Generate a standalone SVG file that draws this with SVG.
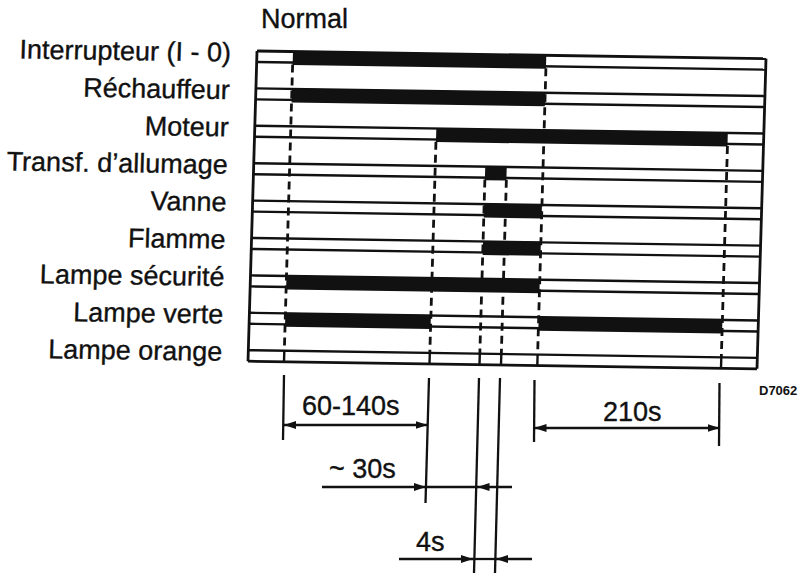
<svg xmlns="http://www.w3.org/2000/svg" width="801" height="579" viewBox="0 0 801 579">
<style>
.ln{stroke:#111;stroke-width:2.4;fill:none}
.box{stroke:#111;stroke-width:2.8;fill:none}
.bar{fill:#111}
.dash{stroke:#111;stroke-width:2.8;stroke-dasharray:8 5;fill:none}
.sol{stroke:#111;stroke-width:2.4}
.lbl{font-family:"Liberation Sans",Arial,sans-serif;font-size:27px;fill:#111;stroke:#111;stroke-width:0.35;text-anchor:end}
.txt{font-family:"Liberation Sans",Arial,sans-serif;font-size:27px;fill:#111;stroke:#111;stroke-width:0.35}
.dim{stroke:#111;stroke-width:2.3;fill:none}
</style>
<defs>
<marker id="ah" viewBox="0 0 12 8" refX="12" refY="4" markerWidth="12" markerHeight="8" markerUnits="userSpaceOnUse" orient="auto-start-reverse">
<path d="M0,0 L12,4 L0,8 z" fill="#111"/>
</marker>
</defs>
<rect width="801" height="579" fill="#fff"/>
<text class="txt" x="261" y="28">Normal</text>
<text x="759" y="395" style="font-family:'Liberation Sans',Arial,sans-serif;font-size:13px;font-weight:bold;fill:#111">D7062</text>

<g transform="matrix(1 0.015 -0.029 1 257 51)">
<g id="frame">
<line class="box" x1="0" y1="0" x2="0" y2="310.2"/>
<line class="box" x1="509" y1="0" x2="509" y2="310.2"/>
</g>
<g id="row-interrupteur">
<text class="lbl" x="-26" y="11">Interrupteur (I - 0)</text>
<line class="box" x1="0" y1="0" x2="509" y2="0"/>
<line class="ln" x1="0" y1="11" x2="509" y2="11"/>
<rect class="bar" x="36" y="-0.5" width="253.3" height="14"/>
</g>
<g id="row-rechauffeur" transform="translate(0 37.4)">
<text class="lbl" x="-26" y="11">Réchauffeur</text>
<line class="ln" x1="0" y1="0" x2="509" y2="0"/>
<line class="ln" x1="0" y1="11" x2="509" y2="11"/>
<rect class="bar" x="36" y="-0.5" width="253.3" height="14"/>
</g>
<g id="row-moteur" transform="translate(0 74.8)">
<text class="lbl" x="-26" y="11">Moteur</text>
<line class="ln" x1="0" y1="0" x2="509" y2="0"/>
<line class="ln" x1="0" y1="11" x2="509" y2="11"/>
<rect class="bar" x="181.5" y="-0.5" width="291.5" height="14"/>
</g>
<g id="row-transf" transform="translate(0 112.2)">
<text class="lbl" x="-26" y="11">Transf. d’allumage</text>
<line class="ln" x1="0" y1="0" x2="509" y2="0"/>
<line class="ln" x1="0" y1="11" x2="509" y2="11"/>
<rect class="bar" x="231.5" y="-0.5" width="21.5" height="14"/>
</g>
<g id="row-vanne" transform="translate(0 149.6)">
<text class="lbl" x="-26" y="11">Vanne</text>
<line class="ln" x1="0" y1="0" x2="509" y2="0"/>
<line class="ln" x1="0" y1="11" x2="509" y2="11"/>
<rect class="bar" x="231.5" y="-0.5" width="57.8" height="14"/>
</g>
<g id="row-flamme" transform="translate(0 187)">
<text class="lbl" x="-26" y="11">Flamme</text>
<line class="ln" x1="0" y1="0" x2="509" y2="0"/>
<line class="ln" x1="0" y1="11" x2="509" y2="11"/>
<rect class="bar" x="231.5" y="-0.5" width="57.8" height="14"/>
</g>
<g id="row-lampe-securite" transform="translate(0 224.4)">
<text class="lbl" x="-26" y="11">Lampe sécurité</text>
<line class="ln" x1="0" y1="0" x2="509" y2="0"/>
<line class="ln" x1="0" y1="11" x2="509" y2="11"/>
<rect class="bar" x="36" y="-0.5" width="253.3" height="14"/>
</g>
<g id="row-lampe-verte" transform="translate(0 261.8)">
<text class="lbl" x="-26" y="11">Lampe verte</text>
<line class="ln" x1="0" y1="0" x2="509" y2="0"/>
<line class="ln" x1="0" y1="11" x2="509" y2="11"/>
<rect class="bar" x="36" y="-0.5" width="145.5" height="14"/>
<rect class="bar" x="289.3" y="-0.5" width="183.7" height="14"/>
</g>
<g id="row-lampe-orange" transform="translate(0 299.2)">
<text class="lbl" x="-26" y="11">Lampe orange</text>
<line class="ln" x1="0" y1="0" x2="509" y2="0"/>
<line class="box" x1="0" y1="11" x2="509" y2="11"/>
<line class="sol" x1="36" y1="0" x2="36" y2="11"/>
<line class="sol" x1="181.5" y1="0" x2="181.5" y2="11"/>
<line class="sol" x1="231.5" y1="0" x2="231.5" y2="11"/>
<line class="sol" x1="253" y1="0" x2="253" y2="11"/>
<line class="sol" x1="289.3" y1="0" x2="289.3" y2="11"/>
<line class="sol" x1="473" y1="0" x2="473" y2="11"/>
</g>
<g id="event-lines">
<line class="dash" x1="36" y1="13" x2="36" y2="300"/>
<line class="dash" x1="289.3" y1="13" x2="289.3" y2="300"/>
<line class="dash" x1="181.5" y1="88" x2="181.5" y2="300"/>
<line class="dash" x1="473" y1="88" x2="473" y2="300"/>
<line class="dash" x1="231.5" y1="125" x2="231.5" y2="300"/>
<line class="dash" x1="253" y1="125" x2="253" y2="300"/>
</g>
</g>

<g id="connectors">
<line class="dim" x1="284" y1="375" x2="283" y2="440"/>
<line class="dim" x1="429" y1="378" x2="425.5" y2="503"/>
<line class="dim" x1="479" y1="378" x2="474" y2="573"/>
<line class="dim" x1="500" y1="378" x2="495" y2="573"/>
<line class="dim" x1="534.5" y1="380" x2="534" y2="442"/>
<line class="dim" x1="719.5" y1="383" x2="719" y2="446"/>
<line class="dim" x1="284" y1="425" x2="427.5" y2="425" marker-start="url(#ah)" marker-end="url(#ah)"/>
<line class="dim" x1="534.5" y1="428" x2="719.5" y2="428" marker-start="url(#ah)" marker-end="url(#ah)"/>
<line class="dim" x1="322" y1="487" x2="426" y2="487" marker-end="url(#ah)"/>
<line class="dim" x1="426" y1="487" x2="478" y2="487"/>
<line class="dim" x1="512" y1="487" x2="477.5" y2="487" marker-end="url(#ah)"/>
<line class="dim" x1="399" y1="559" x2="473" y2="559" marker-end="url(#ah)"/>
<line class="dim" x1="473" y1="559" x2="496" y2="559"/>
<line class="dim" x1="532" y1="559" x2="496" y2="559" marker-end="url(#ah)"/>
</g>
<g id="dimension-labels">
<text class="txt" x="302" y="415">60-140s</text>
<text class="txt" x="603" y="421">210s</text>
<text class="txt" x="329" y="478">~ 30s</text>
<text class="txt" x="416" y="551">4s</text>
</g>
</svg>
